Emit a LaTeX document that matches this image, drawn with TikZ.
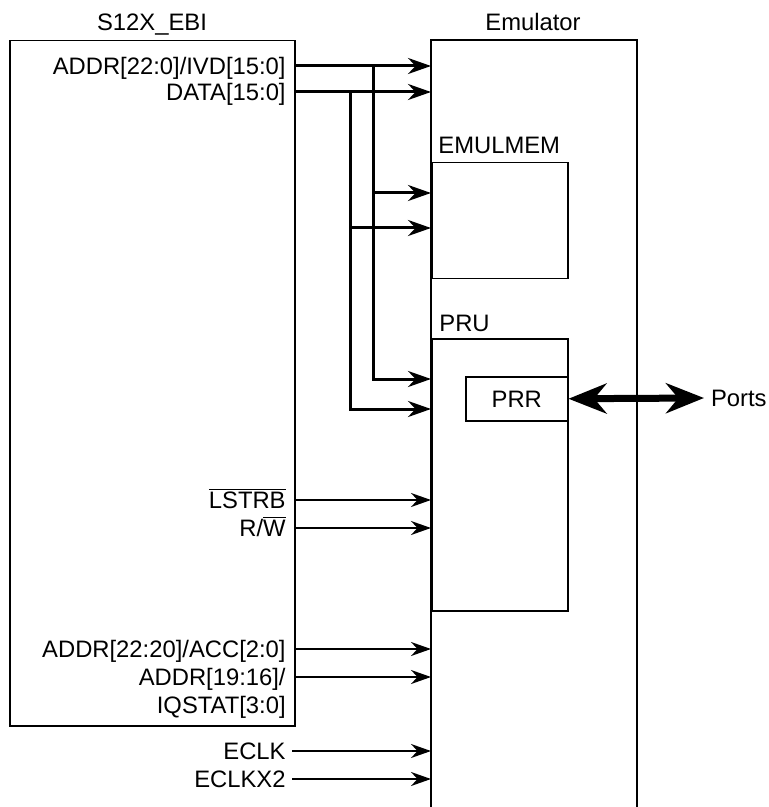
\documentclass[tikz,border=0pt]{standalone}
\usepackage{fontspec}
\setmainfont{Liberation Sans}
\usetikzlibrary{arrows.meta, positioning}

\tikzset{
  blk/.style={draw, line width=0.75pt, inner sep=0pt},
  lbl/.style={inner sep=0pt, text height=8.6pt, text depth=0pt},
  sig/.style={lbl, anchor=east, inner xsep=3pt},
  bus/.style={line width=1.5pt, -{Stealth[length=11.5pt, width=8pt]}},
  wire/.style={line width=1pt, -{Stealth[length=10pt, width=7pt]}},
  port/.style={line width=3.5pt, {Stealth[length=19pt, width=15pt]}-{Stealth[length=19pt, width=15pt]}},
}
\newcommand{\ovl}[1]{$\overline{\hbox{#1}}$}

\begin{document}
\begin{tikzpicture}[x=0.5pt, y=-0.5pt, font=\fontsize{11.9}{14}\selectfont]
  \useasboundingbox (0,0) rectangle (768,807);
  %--- blocks ----------------------------------------------------------------
  \node[blk, anchor=north west, minimum width=142.5pt, minimum height=342.5pt]
    (ebi) at (9,40) {};
  \node[anchor=north west, inner sep=0pt, minimum width=102.5pt, minimum height=383.5pt]
    (emu) at (431,40) {};
  \draw[line width=0.75pt] (emu.south west) -- (emu.north west)
    -- (emu.north east) -- (emu.south east);
  \node[blk, anchor=north west, minimum width=68pt, minimum height=58pt]
    (emulmem) at (431,162) {};
  \node[blk, anchor=north west, minimum width=68pt, minimum height=136pt]
    (pru) at (431,338) {};
  \node[blk, anchor=north west, minimum width=51pt, minimum height=22pt]
    (prr) at (465,376) {};
  \node[lbl] at (prr.center) {PRR};
  % titles
  \node[lbl] (ebiname) at (152,22) {S12X\_EBI};
  \node[lbl] (emuname) at (533,22) {Emulator};
  \node[inner sep=0pt, anchor=base west] (memname) at (438,154) {EMULMEM};
  \node[inner sep=0pt, anchor=base west] (pruname) at (439,331) {PRU};
  %--- signal names ----------------------------------------------------------
  \node[sig] (addr) at (292,66) {ADDR[22:0]/IVD[15:0]};
  \node[sig] (data) at (292,92) {DATA[15:0]};
  \node[sig] (lstrb) at (292,500) {\ovl{LSTRB}};
  \node[sig] (rw) at (292,528) {R/\ovl{W}};
  \node[sig] (acc) at (292,649) {ADDR[22:20]/ACC[2:0]};
  \node[sig] (iq) at (292,677) {ADDR[19:16]/};
  \node[sig] (iqstat) at (292,705) {IQSTAT[3:0]};
  \node[sig] (eclk) at (292,751) {ECLK};
  \node[sig] (eclkx) at (292,779) {ECLKX2};
  \node[anchor=west] (ports) at (704,398) {Ports};
  %--- buses -----------------------------------------------------------------
  \coordinate (tapA) at (373,66);
  \coordinate (tapB) at (350,92);
  \coordinate (rowA) at (0,193);
  \coordinate (rowB) at (0,228);
  \coordinate (rowC) at (0,379);
  \coordinate (rowD) at (0,409);
  \draw[bus] (addr.east -| ebi.east) -- (addr.east -| emu.west);
  \draw[bus] (data.east -| ebi.east) -- (data.east -| emu.west);
  \draw[bus] (tapA) |- (emu.west |- rowC);
  \draw[bus] (tapB) |- (emu.west |- rowD);
  \draw[bus] (tapA |- rowA) -- (emu.west |- rowA);
  \draw[bus] (tapB |- rowB) -- (emu.west |- rowB);
  \draw[port] (prr.east) -- (ports.west);
  %--- single lines ----------------------------------------------------------
  \foreach \s in {lstrb, rw, acc, iq}
    \draw[wire] (\s.east -| ebi.east) -- (\s.east -| emu.west);
  \foreach \s in {eclk, eclkx}
    \draw[wire] (\s.east) -- (\s.east -| emu.west);
\end{tikzpicture}
\end{document}
